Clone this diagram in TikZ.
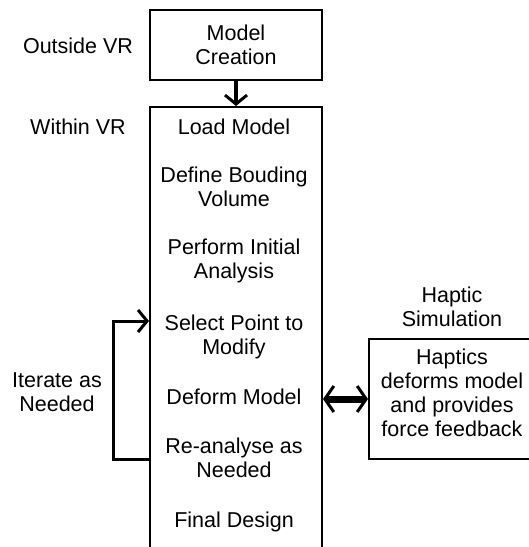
\documentclass[tikz,border=0pt]{standalone}
\usepackage{fontspec}
\setmainfont{Liberation Sans}
\usetikzlibrary{arrows.meta, positioning}
\tikzset{
  box/.style={draw, line width=2pt, align=center, inner sep=0pt},
  lbl/.style={align=center, anchor=base, inner sep=0pt},
  flow/.style={line width=4pt, -{Straight Barb[length=9pt, width=22pt, line width=3pt]}},
  iterline/.style={line width=3pt, -{Straight Barb[length=9pt, width=22pt, line width=3pt]}},
  haplink/.style={line width=7pt, {Straight Barb[length=9pt, width=26pt, line width=3pt]}-{Straight Barb[length=9pt, width=26pt, line width=3pt]}},
}

\begin{document}
\begin{tikzpicture}[x=1pt, y=-1pt, font=\fontsize{21.5}{24}\selectfont]
\useasboundingbox (0,0) rectangle (529,547);
\clip (0,0) rectangle (529,547);

% boxes
\node[box, minimum width=172pt, minimum height=70pt] (mc) at (236,45) {Model\\Creation};
\node[box, minimum width=172pt, minimum height=500pt, anchor=north] (vr) at (236,106) {};
\node[box, minimum width=166pt, minimum height=120pt] (hap) at (452,399) {};
\node[lbl] (haptxt) at (452,436) {Haptics\\deforms model\\and provides\\force feedback};

% side labels
\node[lbl] (outside) at (78,53) {Outside VR};
\node[lbl] (within) at (78,134) {Within VR};
\node[lbl] (iter) at (57,411) {Iterate as\\Needed};
\node[lbl] (hsim) at (452,326) {Haptic\\Simulation};

% steps inside VR
\node[lbl] (load) at (234,134) {Load Model};
\node[lbl] (bound) at (234,206) {Define Bouding\\Volume};
\node[lbl] (init) at (234,278) {Perform Initial\\Analysis};
\node[lbl] (sel) at (234,354) {Select Point to\\Modify};
\node[lbl] (deform) at (234,404) {Deform Model};
\node[lbl] (rean) at (234,477) {Re-analyse as\\Needed};
\node[lbl] (final) at (234,527) {Final Design};

% connectors
\draw[flow] (mc.south) -- (vr.north);
\draw[iterline] (vr.west |- 0,459) -- (113,459) |- (vr.west |- 0,321);
\draw[haplink] (vr.east |- hap.west) -- (hap.west);
\end{tikzpicture}
\end{document}
